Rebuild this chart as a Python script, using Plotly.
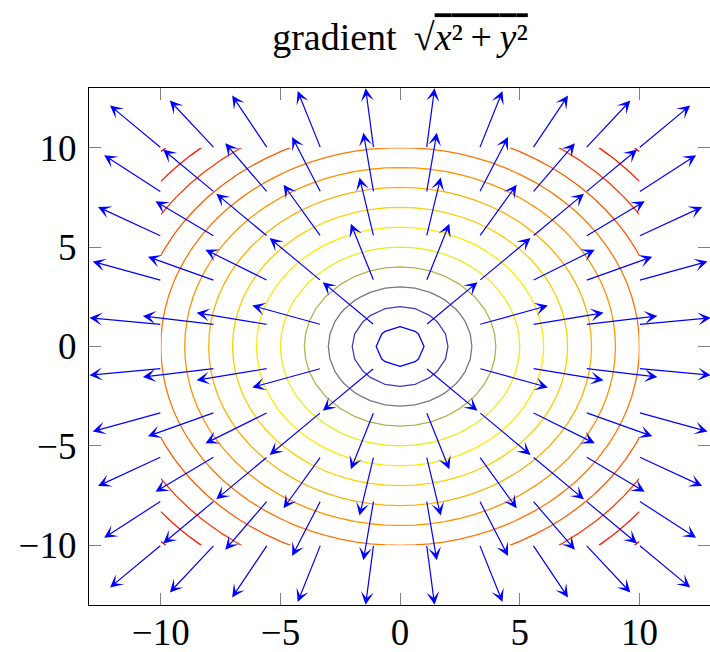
import math
import plotly.graph_objects as go

# ---- data -------------------------------------------------------------
# scalar field f(x, y) = sqrt(x^2 + y^2), sampled on the contour grid
contour_samples = 33
contour_domain = [-10, 10]
contour_levels_start = 1
contour_levels_end = 14
contour_levels_step = 1
color_range = [0.59, 14.142]   # colormap limits (min .. max of the field)

# quiver grid (10 x 10 samples on [-10, 10]) and arrow length
quiver_x = [-10.0, -7.78, -5.56, -3.33, -1.11, 1.11, 3.33, 5.56, 7.78, 10.0]
quiver_y = [-10.0, -7.78, -5.56, -3.33, -1.11, 1.11, 3.33, 5.56, 7.78, 10.0]
arrow_scale = 3.0

tick_vals = [-10, -5, 0, 5, 10]
tick_text = ["\u221210", "\u22125", "0", "5", "10"]

title_html = ("gradient \u2009\u221a<span style='text-decoration:overline'>"
              "<i>x</i>\u00b2\u2009+\u2009<i>y</i>\u00b2</span>")

# ---- build ------------------------------------------------------------
lo, hi = contour_domain
gx = [lo + (hi - lo) * i / (contour_samples - 1) for i in range(contour_samples)]
gy = list(gx)
gz = [[math.hypot(x, y) for x in gx] for y in gy]

colorscale = [[0.0, "rgb(0,0,255)"], [1 / 3, "rgb(255,255,0)"],
              [2 / 3, "rgb(255,128,0)"], [1.0, "rgb(255,0,0)"]]

fig = go.Figure()
fig.add_trace(go.Contour(
    x=gx, y=gy, z=gz,
    contours=dict(coloring="lines", start=contour_levels_start,
                  end=contour_levels_end, size=contour_levels_step),
    line=dict(width=1.3, smoothing=0),
    colorscale=colorscale, zmin=color_range[0], zmax=color_range[1],
    showscale=False, hoverinfo="skip",
))

annotations = []
for y0 in quiver_y:
    for x0 in quiver_x:
        r = math.hypot(x0, y0)
        u = arrow_scale * x0 / r
        v = arrow_scale * y0 / r
        annotations.append(dict(
            x=x0 + u, y=y0 + v, ax=x0, ay=y0,
            xref="x", yref="y", axref="x", ayref="y",
            text="", showarrow=True, arrowhead=3, arrowsize=1.8,
            arrowwidth=1.2, arrowcolor="rgb(0,0,255)", standoff=0,
            borderpad=0,
        ))

font_family = "Liberation Serif, DejaVu Serif, serif"
axis_common = dict(
    showgrid=False, zeroline=False, showline=True, linecolor="black",
    linewidth=1.3, mirror="ticks", ticks="inside", ticklen=12,
    tickcolor="rgb(128,128,128)", tickwidth=1.3, automargin=False,
    tickvals=tick_vals, ticktext=tick_text,
    tickfont=dict(family=font_family, size=37, color="black"),
)

fig.update_layout(
    width=710, height=652,
    margin=dict(l=89, r=0, t=88, b=47, autoexpand=False),
    plot_bgcolor="white", paper_bgcolor="white",
    showlegend=False,
    annotations=annotations,
    title=dict(text=title_html, x=400 / 710, xanchor="center",
               y=1 - 37 / 652, yanchor="middle", yref="container",
               font=dict(family=font_family, size=38, color="black")),
    xaxis=dict(range=[-13, 12.95], ticklabelstandoff=-6, **axis_common),
    yaxis=dict(range=[-13, 13], ticklabelstandoff=4, **axis_common),
)

fig.write_html("out.html", config={"displayModeBar": False},
               post_script="document.body.style.margin='0';")
